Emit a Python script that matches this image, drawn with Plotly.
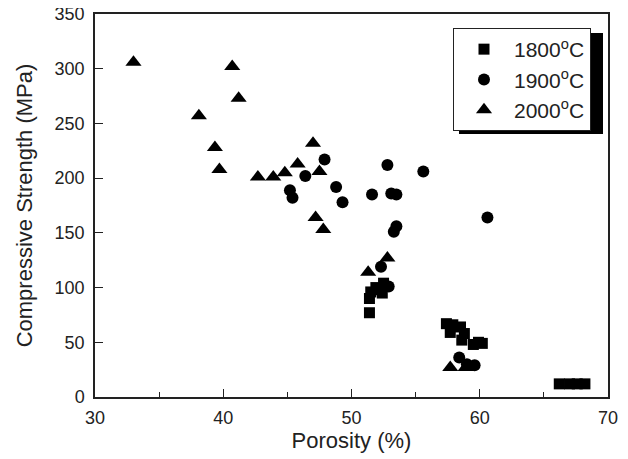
import plotly.graph_objects as go

# 1800 °C
x1800 = [51.4, 51.4, 51.5, 51.9, 52.4, 52.5, 52.2,
         57.4, 57.9, 57.7, 58.5, 58.8, 58.6, 59.5, 59.9, 60.2,
         66.2, 67.0, 67.6, 68.2]
y1800 = [77, 90, 96, 100, 95, 104, 98,
         67, 66, 59, 64, 58, 52, 48, 50, 49,
         12, 12, 12, 12]

# 1900 °C
x1900 = [47.9, 46.4, 45.2, 45.4, 48.8, 49.3, 52.8, 55.6, 51.6, 53.1, 53.5,
         53.3, 53.5, 60.6, 52.3, 52.9, 58.4, 59.0, 59.6]
y1900 = [217, 202, 189, 182, 192, 178, 212, 206, 185, 186, 185,
         151, 156, 164, 119, 101, 36, 30, 29]

# 2000 °C
x2000 = [33.0, 38.1, 39.35, 39.7, 40.7, 41.2, 42.7, 43.9, 44.8, 45.8,
         47.0, 47.5, 47.2, 47.8, 51.3, 52.8, 57.7, 58.9]
y2000 = [306, 257, 228, 208, 302, 273, 201, 201, 205, 213,
         232, 206, 164, 153, 114, 127, 27, 27]

series = [
    ("1800<sup>o</sup>C", x1800, y1800, "square", 11),
    ("1900<sup>o</sup>C", x1900, y1900, "circle", 12),
    ("2000<sup>o</sup>C", x2000, y2000, "triangle-up", 14),
]

FONT = "Arial, Liberation Sans, sans-serif"

fig = go.Figure()
for name, xs, ys, sym, sz in series:
    fig.add_trace(go.Scatter(
        x=xs, y=ys, mode="markers", name=name,
        marker=dict(symbol=sym, size=sz, color="black", line=dict(width=0)),
    ))

axis_common = dict(
    showline=True, linecolor="#222", linewidth=1.5, mirror=True,
    ticks="inside", ticklen=8, tickwidth=1.2, tickcolor="#222",
    showgrid=False, zeroline=False, automargin=False,
    ticklabeloverflow="allow",
    tickfont=dict(family=FONT, size=18, color="#222"),
)

fig.update_xaxes(
    range=[30, 70], dtick=10, tick0=30, ticklabelstandoff=4,
    title=dict(text="Porosity (%)", font=dict(family=FONT, size=22, color="#222"), standoff=0),
    minor=dict(ticks="inside", ticklen=5, dtick=5, tickcolor="#222", tickwidth=1.2),
    **axis_common,
)
fig.update_yaxes(
    range=[0, 350], dtick=50, tick0=0, ticklabelstandoff=5,
    title=dict(text="Compressive Strength (MPa)", font=dict(family=FONT, size=22, color="#222"), standoff=16),
    **axis_common,
)

# page body has an 8px default margin; figure is sized to fit the window
OFF = 8
FW, FH = 628 - OFF, 459 - OFF
PL, PR, PT, PB = 95, 608, 14, 397   # plot area in window pixels
W = PR - PL
H = PB - PT

# legend shadow
fig.add_shape(type="rect", xref="paper", yref="paper",
              x0=(459 - PL) / W, x1=(603 - PL) / W,
              y0=(PB - 134) / H, y1=(PB - 33) / H,
              fillcolor="black", line=dict(width=0), layer="above")

fig.update_layout(
    width=FW, height=FH,
    margin=dict(l=PL - OFF, r=628 - PR, t=PT - OFF, b=459 - PB),
    plot_bgcolor="white", paper_bgcolor="white",
    font=dict(family=FONT, color="#222"),
    legend=dict(
        x=(453 - PL) / W, y=(PB - 28) / H, xanchor="left", yanchor="top",
        bgcolor="white", bordercolor="#222", borderwidth=1,
        font=dict(family=FONT, size=21, color="#222"),
        itemwidth=50,
    ),
    showlegend=True,
)

fig.write_html("out.html")
